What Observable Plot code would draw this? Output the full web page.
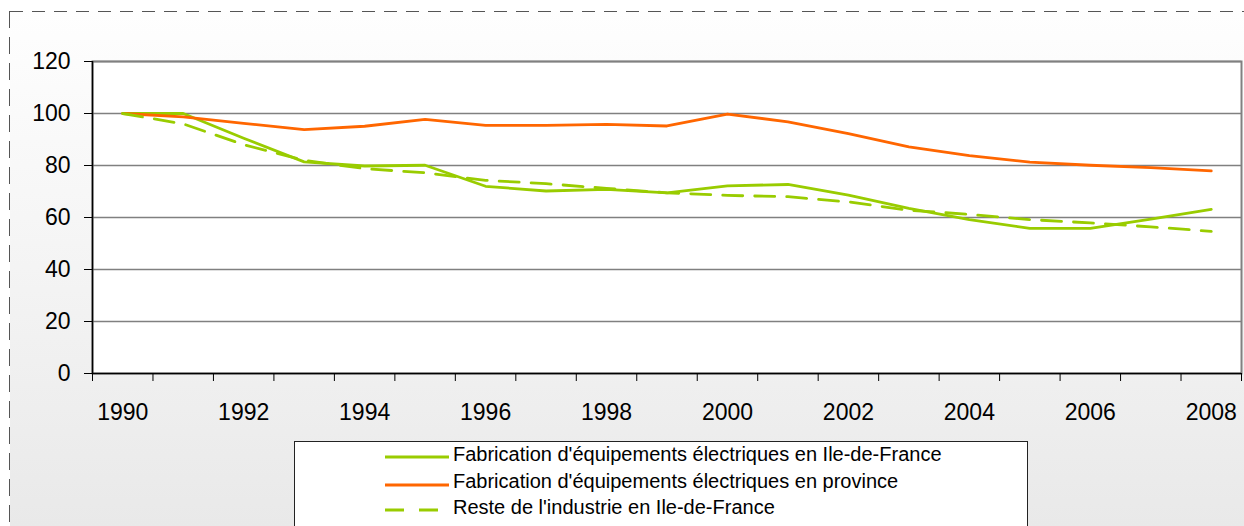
<!DOCTYPE html>
<html><head><meta charset="utf-8">
<script src="https://cdn.jsdelivr.net/npm/d3@7"></script>
<script src="https://cdn.jsdelivr.net/npm/@observablehq/plot@0.6"></script>
<style>
html,body{margin:0;padding:0;background:#fff;width:1244px;height:526px;overflow:hidden;font-family:"Liberation Sans",Arial,sans-serif;}
#bg{position:absolute;left:10px;top:11px;width:1234px;height:515px;background:linear-gradient(to bottom,#fefefe 0%,#f5f5f5 45%,#e9e9e9 100%);}
#dashTop{position:absolute;left:10px;top:11px;width:1234px;height:1px;background:repeating-linear-gradient(to right,#555 0 13px,transparent 13px 22px);}
#dashLeft{position:absolute;left:9px;top:11px;width:1px;height:515px;background:repeating-linear-gradient(to bottom,#555 0 17px,transparent 17px 26px);}
#chart{position:absolute;left:0;top:0;}
#legend{position:absolute;left:294px;top:441px;width:734px;height:100px;border:1px solid #222;background:#fff;box-sizing:border-box;}
#legend .sw{position:absolute;left:90px;width:66px;height:10px;}
#legend .tx{position:absolute;left:158px;font-size:20px;line-height:20px;color:#000;white-space:nowrap;}
</style>
</head><body>
<div id="bg"></div><div id="dashTop"></div><div id="dashLeft"></div>
<div id="chart"></div>
<div id="legend"></div>
<script>
const years = [1990,1991,1992,1993,1994,1995,1996,1997,1998,1999,2000,2001,2002,2003,2004,2005,2006,2007,2008];
const yearLabels = [1990,1992,1994,1996,1998,2000,2002,2004,2006,2008];
const yTicks = [0,20,40,60,80,100,120];
const seriesNames = [
  "Fabrication d'équipements électriques en Ile-de-France",
  "Fabrication d'équipements électriques en province",
  "Reste de l'industrie en Ile-de-France"
];
const seriesColors = ["#99cc00","#ff6600","#99cc00"];
const idfElec  = [100,100,90.5,81.4,79.8,80.1,72,70.2,70.8,69.5,72.2,72.7,68.6,63.5,59.2,55.8,55.8,59.4,63.1];
const province = [100,98.7,96.2,93.8,95.1,97.7,95.4,95.4,95.8,95.2,99.8,96.8,92.3,87.2,83.8,81.3,80.1,79.2,77.9];
const idfRest  = [100,96,88,82,78.8,77.2,74.3,73,71.2,69.5,68.5,68,66,62.8,61.2,59.2,57.9,56.4,54.7];

const toRows = vals => years.map((y,i)=>({year:y, value:vals[i]}));
const xDomain = [years[0]-0.5, years[years.length-1]+0.5];
const boundaries = years.map(y=>y-0.5).concat([years[years.length-1]+0.5]);

const chart = Plot.plot({
  width: 1244, height: 438,
  marginLeft: 92, marginRight: 3, marginTop: 61, marginBottom: 65,
  style: {background:"transparent", fontFamily:"'Liberation Sans', Arial, sans-serif", fontSize:"23px", color:"#000", overflow:"visible"},
  x: {type:"linear", domain: xDomain, label: null},
  y: {domain:[0,120], label: null},
  marks: [
    Plot.frame({fill:"#fff", stroke:"#808080", strokeWidth:2}),
    Plot.gridY(yTicks.slice(1), {stroke:"#808080", strokeOpacity:1, strokeWidth:1.5}),
    Plot.ruleY([0], {stroke:"#000", strokeWidth:1.5}),
    Plot.ruleX([xDomain[0]], {stroke:"#000", strokeWidth:1.5}),
    Plot.line(toRows(idfElec), {x:"year", y:"value", stroke:seriesColors[0], strokeWidth:2.8}),
    Plot.line(toRows(province), {x:"year", y:"value", stroke:seriesColors[1], strokeWidth:2.8}),
    Plot.line(toRows(idfRest), {x:"year", y:"value", stroke:seriesColors[2], strokeWidth:2.8, strokeDasharray:"20,12"}),
    Plot.axisY({ticks: yTicks, tickSize: 8, tickPadding: 14, tickFormat: d=>String(d), fontSize: 23, stroke:"#000", label: null}),
    Plot.axisX({ticks: boundaries, tickSize: 8, tickFormat: ()=>"", stroke:"#000", label: null}),
    Plot.axisX({ticks: yearLabels, tickSize: 0, tickPadding: 30, tickFormat: d=>String(d), fontSize: 23, label: null})
  ]
});
document.getElementById("chart").appendChild(chart);

// legend
const legend = document.getElementById("legend");
const lineYs = [15, 43, 68];
const baselines = [461, 488, 514];
const dashes = [null, null, "19,15"];
seriesNames.forEach((name,i)=>{
  const sw = document.createElementNS("http://www.w3.org/2000/svg","svg");
  sw.setAttribute("class","sw");
  sw.setAttribute("width","66"); sw.setAttribute("height","10");
  sw.style.top = (lineYs[i]-5)+"px";
  const ln = document.createElementNS("http://www.w3.org/2000/svg","line");
  ln.setAttribute("x1","0"); ln.setAttribute("x2","64");
  ln.setAttribute("y1","5"); ln.setAttribute("y2","5");
  ln.setAttribute("stroke", seriesColors[i]);
  ln.setAttribute("stroke-width","3");
  if (dashes[i]) ln.setAttribute("stroke-dasharray", dashes[i]);
  sw.appendChild(ln);
  legend.appendChild(sw);
  const tx = document.createElement("div");
  tx.className = "tx";
  tx.textContent = name;
  tx.style.top = (baselines[i] - 17 - 442) + "px";
  legend.appendChild(tx);
});
</script>
</body></html>
